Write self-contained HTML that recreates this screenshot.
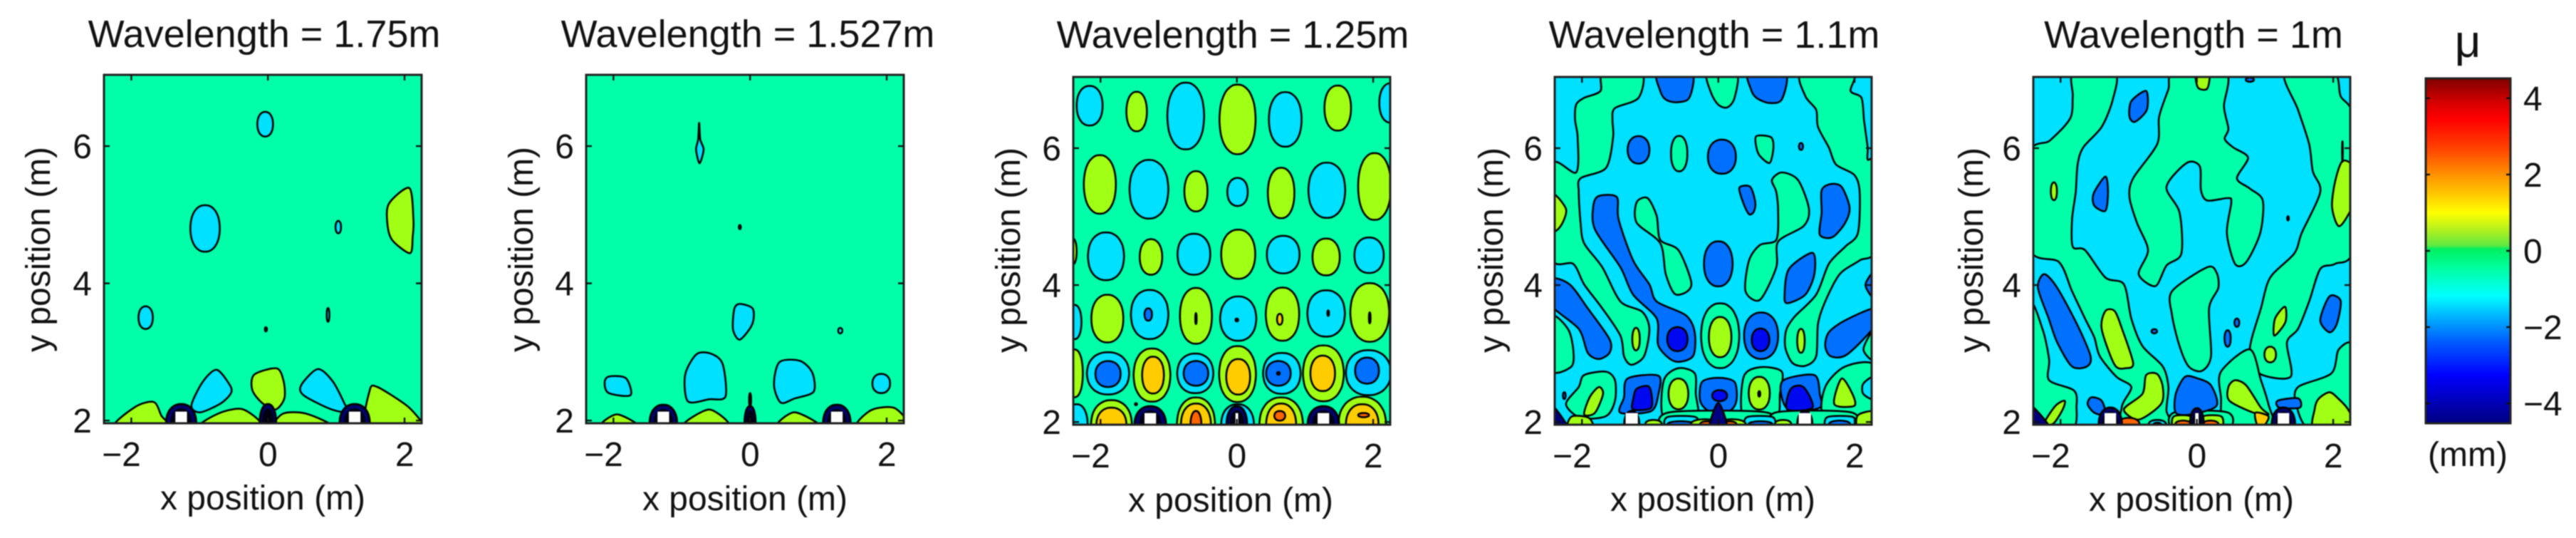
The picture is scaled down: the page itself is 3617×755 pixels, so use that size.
<!DOCTYPE html>
<html>
<head>
<meta charset="utf-8">
<title>Contour maps of mu by wavelength</title>
<style>
html,body{margin:0;padding:0;background:#fff;}
svg{display:block;filter:blur(0.8px);}
text{font-family:"Liberation Sans",sans-serif;fill:#111;}
.t{font-size:54px;text-anchor:middle;}
.a{font-size:48px;text-anchor:middle;}
.k{font-size:48px;}
</style>
</head>
<body>
<svg id="chart" xmlns="http://www.w3.org/2000/svg" width="3617" height="755" viewBox="0 0 3617 755">
<defs id="defs"></defs>
<g id="panels"></g>
<text class="t" x="371" y="66">Wavelength = 1.75m</text>
<text class="t" x="1050" y="66">Wavelength = 1.527m</text>
<text class="t" x="1731" y="67">Wavelength = 1.25m</text>
<text class="t" x="2407" y="67">Wavelength = 1.1m</text>
<text class="t" x="3080" y="67">Wavelength = 1m</text>
<text class="a" x="369" y="715">x position (m)</text>
<text class="a" x="1046" y="716">x position (m)</text>
<text class="a" x="1728" y="718">x position (m)</text>
<text class="a" x="2405" y="717">x position (m)</text>
<text class="a" x="3077" y="717">x position (m)</text>
<text class="a" transform="translate(70 350) rotate(-90)">y position (m)</text>
<text class="a" transform="translate(748 350) rotate(-90)">y position (m)</text>
<text class="a" transform="translate(1432 351) rotate(-90)">y position (m)</text>
<text class="a" transform="translate(2110 351) rotate(-90)">y position (m)</text>
<text class="a" transform="translate(2784 351) rotate(-90)">y position (m)</text>
<g id="colorbar"></g>
<text x="3465" y="80" style="font-size:64px;text-anchor:middle">μ</text>
<text class="a" x="3465" y="654">(mm)</text>
</svg>
<script>
// contour level identifiers (mm)
const N=-3.4, D=-2.6, B=-1.8, C=-1, T=-0.5, L=0.5, Y=1.5, O=2.5;
const contourLevels=[-3.4,-2.6,-1.8,-1,-0.5,0.5,1.5,2.5];
const levelColors=['#000080','#0008f0','#0070ff','#00e0ff','#00ffa8','#a0ff14','#ffcc00','#ff6400'];

const xTickValues=[-2,0,2];
const yTickValues=[2,4,6];
const xLimits=[-2.4,2.25];
const yLimits=[1.96,7.04];

const colorbarTicks=[4,2,0,-2,-4];
const colorbarLimits=[4.52,-4.52];
const colormapValues=[4.52,3.8,3.44,2.71,2,1.27,1,0.54,0.14,0.05,-0.45,-1.18,-1.63,-2.35,-3.25,-4.52];
const colormapColors=['#800000','#e00000','#ff0000','#ff4000','#ff9000','#ffe000','#ffff00','#b0f020','#60e840','#00f060','#00ffa0','#00ffff','#00c0ff','#0060ff','#0000ff','#000080'];

const baseLevels=[T,T,T,C,C];

// Regions in metres: ellipse [level,x,y,rx,ry]  polygon [level,[x,y,x,y,...]]
const panel1Regions=[
[C,-.04,6.32,.115,.18],
[C,-.92,4.8,.215,.34],
[C,1.03,4.82,.04,.09],
[L,[2.07,5.39,2.13,4.93,2.12,4.68,2.08,4.44,1.82,4.63,1.75,4.86,1.77,5.16]],
[C,-1.79,3.5,.105,.165],
[C,.88,3.54,.02,.1],
[C,-.03,3.33,.015,.03],
[L,[-.2,2.67,.13,2.76,.23,2.57,.24,2.32,.11,2.16,-.09,2.26,-.23,2.45]],
[C,[-.75,2.74,-.56,2.52,-.54,2.4,-.69,2.25,-.99,2.12,-1.12,2.22,-.95,2.57]],
[C,[.73,2.75,.95,2.57,1.12,2.25,1.17,2.12,.91,2.17,.52,2.37,.49,2.52]],
[L,[1.6,2.49,2.03,2.22,2.24,2,2.35,1.9,1.47,1.9,1.49,2.44]],
[L,[-1.67,2.27,-1.56,2.07,-1.47,1.9,-2.25,1.9,-1.94,2.2]],
[L,[-.99,1.9,-.73,2.1,-.39,2.17,-.13,2,-.13,1.9]],
[L,[.13,1.9,.22,2.1,.56,2.1,.95,1.9]]
];
const panel2Regions=[
[C,[-.745,6.34,-.73,6.1,-.68,5.95,-.74,5.75,-.79,5.95,-.76,6.1]],
[C,-.15,4.82,.015,.03],
[C,[-.15,3.7,.04,3.63,.03,3.4,-.15,3.18,-.25,3.33,-.23,3.63]],
[C,1.32,3.31,.03,.04],
[C,[-.78,2.97,-.56,2.97,-.4,2.82,-.36,2.35,-.6,2.31,-.91,2.28,-.95,2.67]],
[C,[.43,2.85,.73,2.87,.91,2.7,.93,2.42,.65,2.32,.45,2.26,.35,2.52]],
[C,[-2.07,2.64,-1.82,2.62,-1.75,2.37,-2.07,2.4,-2.13,2.55]],
[C,1.92,2.54,.13,.14],
[L,[-2.2,1.9,-1.95,2.09,-1.62,1.9]],
[L,[-1,1.9,-.6,2.16,-.3,1.9]],
[L,[.39,1.9,.65,2.12,1.04,1.9]],
[L,[1.57,1.9,1.77,2.15,2.12,2.18,2.3,1.9]],
[N,0,2.3,.015,.1]
];
const panel3Regions=[
[C,-2.16,6.62,.19,.29],[L,-1.47,6.535,.15,.29],[C,-.75,6.47,.27,.49],[L,.01,6.42,.265,.51],[C,.71,6.42,.24,.4],[L,1.48,6.585,.195,.33],[C,2.26,6.66,.17,.29],
[L,-2.01,5.47,.235,.43],[C,-1.29,5.4,.285,.43],[L,-.6,5.37,.17,.295],[C,.01,5.36,.15,.205],[L,.65,5.345,.195,.37],[C,1.32,5.385,.27,.405],[L,2.02,5.44,.24,.49],
[L,-2.42,4.49,.07,.2],[C,-1.92,4.42,.265,.35],[L,-1.26,4.41,.165,.26],[C,-.63,4.45,.24,.3],[L,.02,4.45,.25,.36],[C,.68,4.445,.24,.275],[L,1.31,4.41,.2,.27],[C,1.94,4.435,.215,.26],
[C,-2.38,3.46,.1,.25],[L,-1.9,3.51,.235,.35],[C,-1.28,3.57,.275,.36],[B,-1.3,3.57,.055,.09],[L,-.6,3.55,.235,.41],[N,-.6,3.51,.01,.08],[C,.02,3.51,.265,.325],[N,0,3.49,.02,.02],[L,.67,3.575,.245,.39],[Y,.63,3.5,.04,.08],[C,1.31,3.585,.275,.34],[N,1.34,3.59,.012,.04],[L,1.95,3.6,.285,.43],[N,1.95,3.52,.012,.08],
[L,-2.38,2.71,.12,.35],[C,-1.89,2.71,.31,.31],[B,-1.89,2.7,.185,.19],[L,-1.245,2.685,.27,.39],[Y,-1.23,2.685,.16,.27],[C,-.61,2.71,.265,.29],[B,-.6,2.71,.18,.18],[L,.01,2.7,.27,.41],[Y,.02,2.66,.175,.26],[C,.66,2.71,.275,.3],[B,.61,2.71,.18,.18],[N,.61,2.71,.02,.02],[L,1.27,2.71,.3,.41],[Y,1.26,2.71,.18,.26],[C,1.93,2.72,.33,.33],[B,1.91,2.75,.175,.19],
[L,-1.84,1.96,.3,.36],[Y,-1.84,1.96,.22,.25],[L,-.6,1.96,.28,.4],[Y,-.6,1.96,.22,.31],[O,-.6,1.96,.08,.2],[L,.65,1.96,.32,.4],[Y,.65,1.96,.22,.31],[O,.63,2.09,.08,.07],[L,1.84,1.96,.35,.41],[Y,1.84,1.96,.24,.3],[O,1.86,2.1,.08,.03],
[C,.01,1.96,.24,.3],[C,-2.35,1.96,.16,.3],[N,-1.48,2.26,.015,.015]
];
const panel4Regions=[
[T,[-1.686,7.1,-1.128,7.1,-1.17,6.735,-1.516,6.585,-1.553,6.41,-1.543,6.16,-1.649,5.71,-2.021,5.56,-2.048,5.36,-2.021,4.91,-1.968,4.61,-1.702,4.26,-1.436,3.76,-1.117,3.61,-1.011,3.36,-1.09,2.96,-1.277,2.835,-1.383,2.96,-1.436,3.26,-1.702,3.66,-1.968,4.01,-2.128,4.31,-2.45,4.41,-2.45,5.75,-2.085,5.645,-2.064,6.16,-2.101,6.41,-2.085,6.635,-1.968,6.735,-1.729,6.835]],
[T,[1.223,7.1,1.968,7.1,1.941,6.835,2.101,6.735,2.138,6.41,2.191,6.01,2.191,5.835,2.3,5.75,2.3,4.535,2.074,4.36,1.782,4.16,1.569,3.76,1.463,3.435,1.436,2.96,1.277,2.82,1.09,2.86,.984,3.085,.995,3.335,1.117,3.535,1.436,3.86,1.622,4.31,1.862,4.56,2.048,4.76,2.074,5.36,1.995,5.61,1.729,5.76,1.622,6.01,1.463,6.31,1.436,6.56,1.277,6.76]],
[T,[-.16,7.1,.266,7.1,.239,6.735,.133,6.595,0,6.635,-.106,6.81]],
[B,[-.888,7.1,-.388,7.1,-.426,6.735,-.612,6.67,-.771,6.71,-.851,6.835]],
[B,[.452,7.1,.984,7.1,.931,6.71,.745,6.66,.559,6.735,.479,6.86]],
[B,-1.17,5.975,.16,.2],[T,-.574,5.92,.12,.26],[B,.053,5.875,.205,.25],
[T,[.559,6.175,.771,6.16,.809,6.01,.755,5.785,.612,5.885,.559,6.01]],
[B,1.213,6.025,.03,.05],
[B,[.309,5.42,.468,5.435,.543,5.21,.521,5.07,.452,5.035,.372,5.185]],
[T,[.931,5.645,1.17,5.535,1.33,5.11,1.25,4.86,.878,4.635,.851,4.26,.612,3.785,.399,3.91,.452,4.36,.612,4.585,.851,4.66,.878,5.06,.851,5.36,.787,5.535]],
[T,[-1.197,5.21,-1.037,5.27,-.904,5.01,-.851,4.66,-.585,4.51,-.4,4.06,-.452,3.91,-.638,3.87,-.771,4.16,-.851,4.61,-1.197,4.91]],
[B,[-1.835,5.15,-1.755,5.3,-1.489,5.285,-1.463,4.96,-1.25,4.36,-1.011,4.01,-.904,3.76,-.479,3.56,-.346,3.31,-.372,2.96,-.638,2.885,-.878,3.11,-.904,3.51,-1.25,3.86,-1.436,4.26,-1.809,4.81]],
[D,-.6,3.21,.15,.175],
[B,0,4.31,.21,.33],
[B,[1.383,4.47,1.41,4.16,1.277,3.86,1.011,3.735,.973,3.86,1.037,4.235]],
[B,[1.516,5.385,1.649,5.475,1.809,5.435,1.926,5.135,1.862,4.91,1.676,4.7,1.489,4.735,1.516,5.06]],
[B,[-2.45,4.085,-2.181,4.01,-1.915,3.66,-1.596,3.21,-1.596,3.01,-1.755,2.92,-1.915,3.01,-2.048,3.36,-2.45,3.71]],
[T,[-2.45,3.535,-2.207,3.36,-2.128,3.06,-2.154,2.81,-2.45,2.76]],
[L,[-2.45,5.335,-2.234,5.11,-2.314,4.86,-2.45,4.8]],
[L,-1.207,3.21,.055,.165],
[T,.027,3.26,.28,.475],[L,.027,3.24,.165,.295],
[B,.628,3.26,.25,.34],[D,.62,3.2,.13,.165],
[L,1.213,3.185,.055,.175],
[B,[2.3,3.66,1.862,3.485,1.622,3.31,1.569,3.11,1.649,2.96,1.888,2.985,2.3,3.41]],
[B,[2.3,4.2,2.16,4,2.3,3.8]],
[T,[2.3,3.36,2.13,3.06,2.3,2.9]],
[T,[-1.968,2.685,-1.649,2.735,-1.516,2.61,-1.516,2.31,-1.649,2.085,-2.021,2.06,-2.234,2.26,-2.048,2.51]],
[L,[-1.755,2.51,-1.691,2.41,-1.809,2.135,-1.968,2.11,-1.888,2.36]],
[B,-2.26,2.385,.02,.05],
[T,[-.798,2.61,-.585,2.785,-.346,2.71,-.33,2.41,-.319,2.06,-.798,2.06]],
[L,-.585,2.41,.145,.225],
[B,[-.239,2.585,0,2.645,.239,2.585,.266,2.31,.16,2.16,-.133,2.16,-.266,2.31]],
[D,.02,2.385,.11,.08],
[T,[.372,2.66,.612,2.8,.931,2.735,.904,2.41,.851,2.06,.372,2.06]],
[L,.601,2.42,.155,.24],
[N,.601,2.41,.015,.04],
[B,[-1.33,2.635,-.878,2.675,-.878,2.41,-.984,2.16,-1.436,2.135,-1.383,2.36]],
[D,[-1.197,2.485,-1.011,2.51,-.984,2.21,-1.25,2.185,-1.25,2.33]],
[B,[.957,2.61,1.41,2.685,1.489,2.41,1.489,2.21,1.064,2.16,.931,2.36]],
[D,[1.064,2.485,1.25,2.51,1.383,2.21,1.011,2.185]],
[T,[1.569,2.51,1.862,2.81,2.3,2.82,2.3,2.08,1.569,2.08]],
[L,[1.809,2.635,1.968,2.41,1.995,2.235,1.702,2.26]],
[C,[2.3,2.66,2.128,2.56,2.128,2.41,2.3,2.335]],
[T,[-.72,1.9,-.72,2.14,.7,2.14,.7,1.9]],
[T,[.85,1.9,.85,2.14,1.95,2.14,1.95,1.9]],
[C,[-.75,1.9,-.75,2.07,-.33,2.07,-.33,1.9]],
[B,-.55,1.96,.2,.05],
[C,[.42,1.9,.42,2.07,.8,2.07,.8,1.9]],
[B,.62,1.96,.18,.05],
[C,[1.6,1.9,1.6,2.07,1.98,2.07,1.98,1.9]],
[B,1.78,1.96,.16,.06],
[L,[2.05,1.9,2.05,2.1,2.3,2.15,2.3,1.9]],
[L,[-2.2,1.9,-2.15,2.08,-1.9,2.06,-1.85,1.9]],
[L,-.2,1.97,.2,.07],[L,.2,1.97,.2,.07],[L,-.95,1.97,.12,.06],[L,.95,1.97,.12,.06],
[O,-.17,1.96,.1,.05],[O,.17,1.96,.1,.05],
[N,[-.13,1.9,0,2.28,.13,1.9]],
[N,[-2.45,2.25,-2.2,1.9,-2.45,1.9]]
];
const panel5Regions=[
[T,[-1.804,7.1,-1.207,7.1,-1.234,6.71,-1.397,6.31,-1.668,6.01,-1.75,5.76,-1.777,5.36,-1.832,4.96,-1.821,4.56,-1.641,4.51,-1.342,4.11,-1.071,4.01,-.962,3.51,-.799,3.11,-.5,2.81,-.418,2.51,-.446,2.16,-.364,1.9,-1.071,1.9,-1.098,2.235,-.962,2.51,-1.179,2.66,-1.424,2.96,-1.505,3.235,-1.641,3.51,-1.832,3.91,-2.022,4.335,-2.45,4.535,-2.45,5.91,-2.158,6.11,-1.859,6.435,-1.821,6.76]],
[T,[-.337,7.1,.424,7.1,.397,6.61,.462,6.285,.408,6.135,.533,6.01,.75,5.86,.587,5.56,.777,5.41,.967,5.235,.929,4.76,.723,4.335,.56,4.31,.44,4.76,.505,5.21,.451,5.27,.152,5.235,.06,5.385,.043,5.735,-.147,5.785,-.446,5.435,-.255,5.06,-.228,4.46,-.446,4.285,-.609,3.985,-.853,4.16,-.717,4.51,-.88,4.91,-.989,5.285,-.935,5.56,-.582,6.06,-.554,6.46,-.418,6.86]],
[T,[1.293,7.1,2,7.1,2.109,6.76,2.3,6.385,2.3,4.56,2.027,4.31,1.81,4.235,1.647,3.76,1.484,3.36,1.321,3.16,1.375,2.66,.913,2.71,.777,3.06,.94,3.66,1.076,4.11,1.429,4.46,1.538,4.76,1.81,5.36,1.701,5.66,1.647,6.06,1.484,6.56]],
[T,[2.3,3.085,2.082,3.06,1.973,2.71,1.484,2.51,1.457,2.26,1.647,1.9,2.3,1.9]],
[T,[.152,4.26,.288,4.185,.315,3.96,.179,3.66,.207,2.96,.071,2.745,-.12,2.81,-.255,3.11,-.364,3.56,-.364,3.91]],
[T,[.777,3.06,.353,2.735,.353,2.36,.424,1.9,1.103,1.9,1.049,2.26,.94,2.61]],
[T,[-2.45,3.685,-2.266,3.36,-2.168,2.91,-2.168,2.61,-1.804,2.46,-1.766,2.235,-1.832,1.9,-2.45,1.9]],
[T,[-.33,2.14,.45,2.14,.45,1.9,-.33,1.9]],
[B,[-.745,6.835,-.734,6.56,-.908,6.385,-.989,6.46,-.962,6.685]],
[B,[-1.342,5.585,-1.304,5.36,-1.342,5.085,-1.505,5.16,-1.516,5.335]],
[L,[-.011,7.1,.179,7.1,.152,6.87,.016,6.885]],
[B,.777,7.0,.06,.03],
[L,-2.098,5.37,.045,.13],
[L,[2.136,5.81,2.3,5.71,2.3,5.21,2.092,4.86,1.984,5.135,2.027,5.51]],
[N,2.136,5.95,.005,.15],
[C,1.337,4.975,.012,.03],
[B,[-2.239,4.16,-2.049,3.96,-1.75,3.41,-1.56,2.96,-1.614,2.81,-1.832,2.81,-2.049,3.16,-2.174,3.51,-2.332,3.96]],
[L,[-1.342,3.62,-1.207,3.62,-1.098,3.36,-.935,2.86,-1.043,2.785,-1.207,2.835,-1.397,3.36]],
[B,-.625,3.325,.04,.03],[B,.587,3.45,.035,.06],[B,.451,3.22,.045,.12],
[L,[1.293,3.685,1.299,3.46,1.136,3.26,1.147,3.51]],
[L,1.076,2.985,.085,.115],
[B,[1.946,3.835,2.109,3.77,2.054,3.435,1.946,3.31,1.81,3.485]],
[L,[-.745,2.685,-.582,2.7,-.5,2.51,-.527,2.26,-.853,2.035,-1.071,2.185,-.799,2.41]],
[B,[-.174,2.66,.016,2.635,.207,2.535,.288,2.235,-.092,2.11,-.31,2.135,-.31,2.41]],
[L,[.56,2.61,.723,2.535,.94,2.21,1.049,2.11,.832,2.135,.478,2.31,.462,2.51]],
[Y,[.859,2.135,1.049,2.085,.995,1.96,.886,1.96]],
[L,[1.783,2.335,1.946,2.435,2.082,2.335,2.218,2.185,2.3,2,2.3,1.9,1.728,1.9,1.728,2.185]],
[L,[-1.94,2.31,-1.967,2.185,-2.103,1.98,-2.239,1.98,-2.076,2.235]],
[B,[-1.549,2.36,-1.397,2.31,-1.342,2.11,-1.505,2.135,-1.603,2.26]],
[B,[1.185,2.31,1.484,2.345,1.511,2.21,1.212,2.21]],
[L,[-.34,1.9,-.34,2.08,-.09,2.08,-.09,1.9]],
[L,[.09,1.9,.09,2.08,.36,2.08,.36,1.9]],
[O,-1.0,1.96,.16,.1],[O,-.2,1.96,.12,.06],[O,.2,1.96,.12,.06],
[C,-.58,1.96,.13,.07],[B,-.58,1.96,.06,.03],
[N,[-2.45,2.25,-2.15,1.9,-2.45,1.9]]
];
const panelRegions=[panel1Regions,panel2Regions,panel3Regions,panel4Regions,panel5Regions];

// sensors: x position (m), dome half width (m), dome height (m), white marker half width (m)
const sensorX=[-1.27,0,1.27];
const sensorHalfWidths=[[.22,.12,.22],[.2,.08,.2],[.23,.15,.23],[.11,.03,.11],[.17,.1,.17]];
const sensorHeights=[[.28,.28,.28],[.27,.25,.27],[.27,.27,.27],[.2,.0,.2],[.25,.24,.25]];
const sensorMarkerWidths=[[.085,0,.085],[.085,0,.085],[.085,.02,.085],[.09,0,.09],[.085,.025,.085]];

const frames=[
{l:146,t:105,w:446,h:489},
{l:823,t:105,w:446,h:489},
{l:1507,t:108,w:445,h:488},
{l:2183,t:108,w:445,h:488},
{l:2855,t:108,w:445,h:488}
];
const SVGNS='http://www.w3.org/2000/svg';
const panelsRoot=document.getElementById('panels');
function mk(tag,attrs,parent){
  const el=document.createElementNS(SVGNS,tag);
  for(const k in attrs){el.setAttribute(k,attrs[k]);}
  parent.appendChild(el);
  return el;
}
function colorFor(level){return levelColors[contourLevels.indexOf(level)];}
function smoothPath(p){
  const n=p.length;
  let d='M'+p[0][0].toFixed(1)+' '+p[0][1].toFixed(1);
  for(let i=0;i<n;i++){
    const a=p[(i-1+n)%n],b=p[i],c=p[(i+1)%n],e=p[(i+2)%n];
    const c1x=b[0]+(c[0]-a[0])/7,c1y=b[1]+(c[1]-a[1])/7;
    const c2x=c[0]-(e[0]-b[0])/7,c2y=c[1]-(e[1]-b[1])/7;
    d+='C'+c1x.toFixed(1)+' '+c1y.toFixed(1)+' '+c2x.toFixed(1)+' '+c2y.toFixed(1)+' '+c[0].toFixed(1)+' '+c[1].toFixed(1);
  }
  return d+'Z';
}
function ellipsePoints(cx,cy,rx,ry,sx,sy){
  const pts=[];
  const steps=14;
  for(let i=0;i<steps;i++){
    const a=i/steps*Math.PI*2;
    const ca=Math.cos(a),sa=Math.sin(a);
    const ex=Math.sign(ca)*Math.pow(Math.abs(ca),0.92);
    const ey=Math.sign(sa)*Math.pow(Math.abs(sa),0.92);
    pts.push([sx(cx+rx*ex),sy(cy+ry*ey)]);
  }
  return pts;
}
panelRegions.forEach(function(regions,pi){
  const f=frames[pi];
  const sx=function(x){return f.l+(x-xLimits[0])/(xLimits[1]-xLimits[0])*f.w;};
  const sy=function(y){return f.t+(yLimits[1]-y)/(yLimits[1]-yLimits[0])*f.h;};
  const g=mk('g',{},panelsRoot);
  
  
  const clip=mk('clipPath',{id:'clip'+pi},document.getElementById('defs'));
  mk('rect',{x:f.l,y:f.t,width:f.w,height:f.h},clip);
  const inner=mk('g',{'clip-path':'url(#clip'+pi+')'},g);
  const bg=mk('rect',{x:f.l,y:f.t,width:f.w,height:f.h,fill:colorFor(baseLevels[pi])},inner);
  
  
  regions.forEach(function(r){
    let pts;
    if(Array.isArray(r[1])){
      pts=[];
      for(let i=0;i<r[1].length;i+=2){pts.push([sx(r[1][i]),sy(r[1][i+1])]);}
    }else{
      pts=ellipsePoints(r[1],r[2],r[3],r[4],sx,sy);
    }
    const path=mk('path',{d:smoothPath(pts),fill:colorFor(r[0]),stroke:'#000','stroke-width':2.6,'stroke-linejoin':'round'},inner);
    
    
  });
  sensorX.forEach(function(x,si){
    const hw=sensorHalfWidths[pi][si],ht=sensorHeights[pi][si],mw=sensorMarkerWidths[pi][si];
    if(ht>0){
      const outer=mk('path',{d:smoothPath(ellipsePoints(x,yLimits[0],hw,ht,sx,sy)),fill:'#00006e',stroke:'#000','stroke-width':3},inner);
      
      
      const core=mk('path',{d:smoothPath(ellipsePoints(x,yLimits[0],hw*.72,ht*.78,sx,sy)),fill:'#000010'},inner);
      
      
    }
    if(mw>0){
      const m=mk('rect',{x:sx(x-mw),y:sy(2.13),width:sx(x+mw)-sx(x-mw),height:sy(yLimits[0])-sy(2.13),fill:'#fff'},inner);
      
      
    }
  });
  const frame=mk('rect',{x:f.l,y:f.t,width:f.w,height:f.h,fill:'none',stroke:'#222','stroke-width':3},g);
  
  
  xTickValues.forEach(function(v){
    const px=sx(v);
    const t1=mk('path',{d:'M'+px+' '+f.t+'v8M'+px+' '+(f.t+f.h)+'v-8',stroke:'#111','stroke-width':2.4},g);
    
    
    const lab=mk('text',{x:px+13.5,y:f.t+f.h+60,'text-anchor':'end',class:'k'},g);
    lab.textContent=(v<0?'\u2212':'')+Math.abs(v);
    
    
  });
  yTickValues.forEach(function(v){
    const py=sy(v);
    const t2=mk('path',{d:'M'+f.l+' '+py+'h8M'+(f.l+f.w)+' '+py+'h-8',stroke:'#111','stroke-width':2.4},g);
    
    
    const lab=mk('text',{x:f.l-17,y:py+17,'text-anchor':'end',class:'k'},g);
    lab.textContent=String(v);
    
    
  });
});
// colorbar
(function(){
  const cb={l:3406,t:110,w:119,h:484};
  const cy=function(v){return cb.t+(colorbarLimits[0]-v)/(colorbarLimits[0]-colorbarLimits[1])*cb.h;};
  const grad=mk('linearGradient',{id:'jet',x1:0,y1:0,x2:0,y2:1},document.getElementById('defs'));
  colormapValues.forEach(function(v,i){
    mk('stop',{offset:(colorbarLimits[0]-v)/(colorbarLimits[0]-colorbarLimits[1]),'stop-color':colormapColors[i]},grad);
  });
  const root=document.getElementById('colorbar');
  const r=mk('rect',{x:cb.l,y:cb.t,width:cb.w,height:cb.h,fill:'url(#jet)',stroke:'#222','stroke-width':3},root);
  
  
  colorbarTicks.forEach(function(v){
    const py=cy(v);
    const tk=mk('path',{d:'M'+cb.l+' '+py+'h6M'+(cb.l+cb.w)+' '+py+'h-6',stroke:'#111','stroke-width':2.4},root);
    
    
    const lab=mk('text',{x:3543,y:py+17,'text-anchor':'start',class:'k'},root);
    lab.textContent=(v<0?'\u2212':'')+Math.abs(v);
    
    
  });
})();
</script>
</body>
</html>
